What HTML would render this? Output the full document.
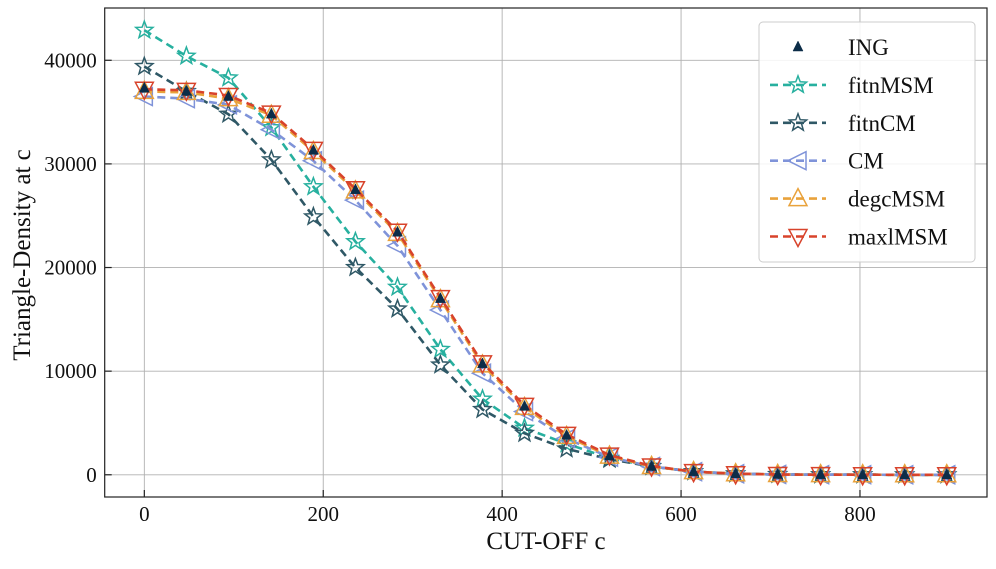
<!DOCTYPE html>
<html><head><meta charset="utf-8"><style>
body{margin:0;background:#fff;}
svg text{font-family:"Liberation Serif","DejaVu Serif",serif;fill:#111;}
</style></head><body>
<svg id="chart" width="996" height="564" viewBox="0 0 996 564" xmlns="http://www.w3.org/2000/svg">
<g id="grid"></g>
<g id="series"></g>
<rect x="104.7" y="8" width="882.3" height="489" fill="none" stroke="#222" stroke-width="1.2"/>
<g id="axes"></g>
<text x="546" y="549" font-size="25" text-anchor="middle">CUT-OFF c</text>
<text transform="translate(30,255) rotate(-90)" font-size="25" text-anchor="middle">Triangle-Density at c</text>
<g id="legend"></g>
</svg>
<script>
const cutoffs=[0,47,94,142,189,236,283,331,378,425,472,520,567,614,661,708,756,803,850,897];
const ING=[37300,37000,36500,34800,31300,27500,23400,17000,10700,6600,3800,1800,800,300,100,30,10,5,2,1];
const fitnMSM=[42900,40400,38300,33500,27800,22500,18100,12100,7300,4500,3000,1600,800,300,100,30,10,5,2,1];
const fitnCM=[39400,37000,34800,30400,24900,20000,16000,10600,6300,4000,2500,1500,800,300,100,30,10,5,2,1];
const CM=[36500,36300,35700,33300,30300,26500,22100,15900,9800,6100,3500,1700,800,300,100,30,10,5,2,1];
const degcMSM=[37000,36900,36300,34700,31200,27400,23300,16900,10600,6500,3700,1800,800,300,100,30,10,5,2,1];
const maxlMSM=[37200,37100,36600,34900,31400,27600,23500,17100,10800,6700,3900,1900,850,300,100,30,10,5,2,1];
const xTicks=[0,200,400,600,800];
const yTicks=[0,10000,20000,30000,40000];
const NS="http://www.w3.org/2000/svg";
const L=104.7,R=987,T=8,B=497,XMIN=-44.3,XMAX=942,YMIN=-2145,YMAX=45045;
const sx=v=>L+(v-XMIN)/(XMAX-XMIN)*(R-L);
const sy=v=>B-(v-YMIN)/(YMAX-YMIN)*(B-T);
function mk(tag,attrs,parent){const e=document.createElementNS(NS,tag);for(const k in attrs)e.setAttribute(k,attrs[k]);parent.appendChild(e);return e;}
const grid=document.getElementById('grid'),axes=document.getElementById('axes'),ser=document.getElementById('series'),leg=document.getElementById('legend');
xTicks.forEach(t=>{const x=sx(t);
 const g=mk('line',{x1:x,x2:x,y1:T,y2:B,stroke:'#b0b0b0','stroke-width':0.9},grid);
 
 const tk=mk('line',{x1:x,x2:x,y1:B,y2:B-7,stroke:'#222','stroke-width':1.2},axes);
 
 const tx=mk('text',{x:x,y:B+24,'font-size':21,'text-anchor':'middle'},axes);tx.textContent=t;
 });
yTicks.forEach(t=>{const y=sy(t);
 const g=mk('line',{x1:L,x2:R,y1:y,y2:y,stroke:'#b0b0b0','stroke-width':0.9},grid);
 
 const tk=mk('line',{x1:L,x2:L+7,y1:y,y2:y,stroke:'#222','stroke-width':1.2},axes);
 
 const tx=mk('text',{x:L-8,y:y+7,'font-size':21,'text-anchor':'end'},axes);tx.textContent=t;
 });
function starPts(cx,cy,r){let p=[];for(let i=0;i<10;i++){const a=-Math.PI/2+i*Math.PI/5,rr=i%2?r*0.42:r;p.push((cx+rr*Math.cos(a)).toFixed(1)+','+(cy+rr*Math.sin(a)).toFixed(1));}return p.join(' ');}
function marker(kind,cx,cy,color,parent,s){
 if(kind==='star')return mk('polygon',{points:starPts(cx,cy,9*s),fill:'none',stroke:color,'stroke-width':1.5},parent);
 if(kind==='left')return mk('polygon',{points:`${cx-10*s},${cy} ${cx+8*s},${cy-9*s} ${cx+8*s},${cy+9*s}`,fill:'none',stroke:color,'stroke-width':1.5},parent);
 if(kind==='up')return mk('polygon',{points:`${cx},${cy-10*s} ${cx+9*s},${cy+7*s} ${cx-9*s},${cy+7*s}`,fill:'none',stroke:color,'stroke-width':1.5},parent);
 if(kind==='down')return mk('polygon',{points:`${cx},${cy+10*s} ${cx+9*s},${cy-7*s} ${cx-9*s},${cy-7*s}`,fill:'none',stroke:color,'stroke-width':1.5},parent);
 if(kind==='tri')return mk('polygon',{points:`${cx},${cy-6*s} ${cx+5*s},${cy+4*s} ${cx-5*s},${cy+4*s}`,fill:color,stroke:color,'stroke-width':0.5},parent);
}
const series=[
 {name:'fitnMSM',data:fitnMSM,color:'#27b09f',m:'star'},
 {name:'fitnCM',data:fitnCM,color:'#2f5866',m:'star'},
 {name:'CM',data:CM,color:'#7f93d9',m:'left'},
 {name:'degcMSM',data:degcMSM,color:'#e9a23b',m:'up'},
 {name:'maxlMSM',data:maxlMSM,color:'#d8432b',m:'down'},
];
series.forEach(s=>{
 const g=mk('g',{},ser);
 const pts=s.data.map((v,i)=>sx(cutoffs[i]).toFixed(1)+','+sy(v).toFixed(1)).join(' ');
 const pl=mk('polyline',{points:pts,fill:'none',stroke:s.color,'stroke-width':2.6,'stroke-dasharray':'8,5'},g);
 
 s.data.forEach((v,i)=>{const m=marker(s.m,sx(cutoffs[i]),sy(v),s.color,g,1);
  });
});
{const g=mk('g',{},ser);
 ING.forEach((v,i)=>{const m=marker('tri',sx(cutoffs[i]),sy(v),'#0c2d48',g,1);
  });}
const box=mk('rect',{x:759,y:22,width:216,height:240,rx:4,fill:'rgba(255,255,255,0.85)',stroke:'#ccc','stroke-width':1},leg);

const entries=[{name:'ING',color:'#0c2d48',m:'tri'}].concat(series);
entries.forEach((e,i)=>{const y=47+i*37.9;
 const g=mk('g',{},leg);
 if(e.m!=='tri'){const ln=mk('line',{x1:770,x2:826,y1:y,y2:y,stroke:e.color,'stroke-width':2.6,'stroke-dasharray':'8,5'},g);
  }
 const m=marker(e.m,798,y,e.color,g,1);
 const t=mk('text',{x:848,y:y+8,'font-size':23},g);t.textContent=e.name;
 
});
</script>
</body></html>
